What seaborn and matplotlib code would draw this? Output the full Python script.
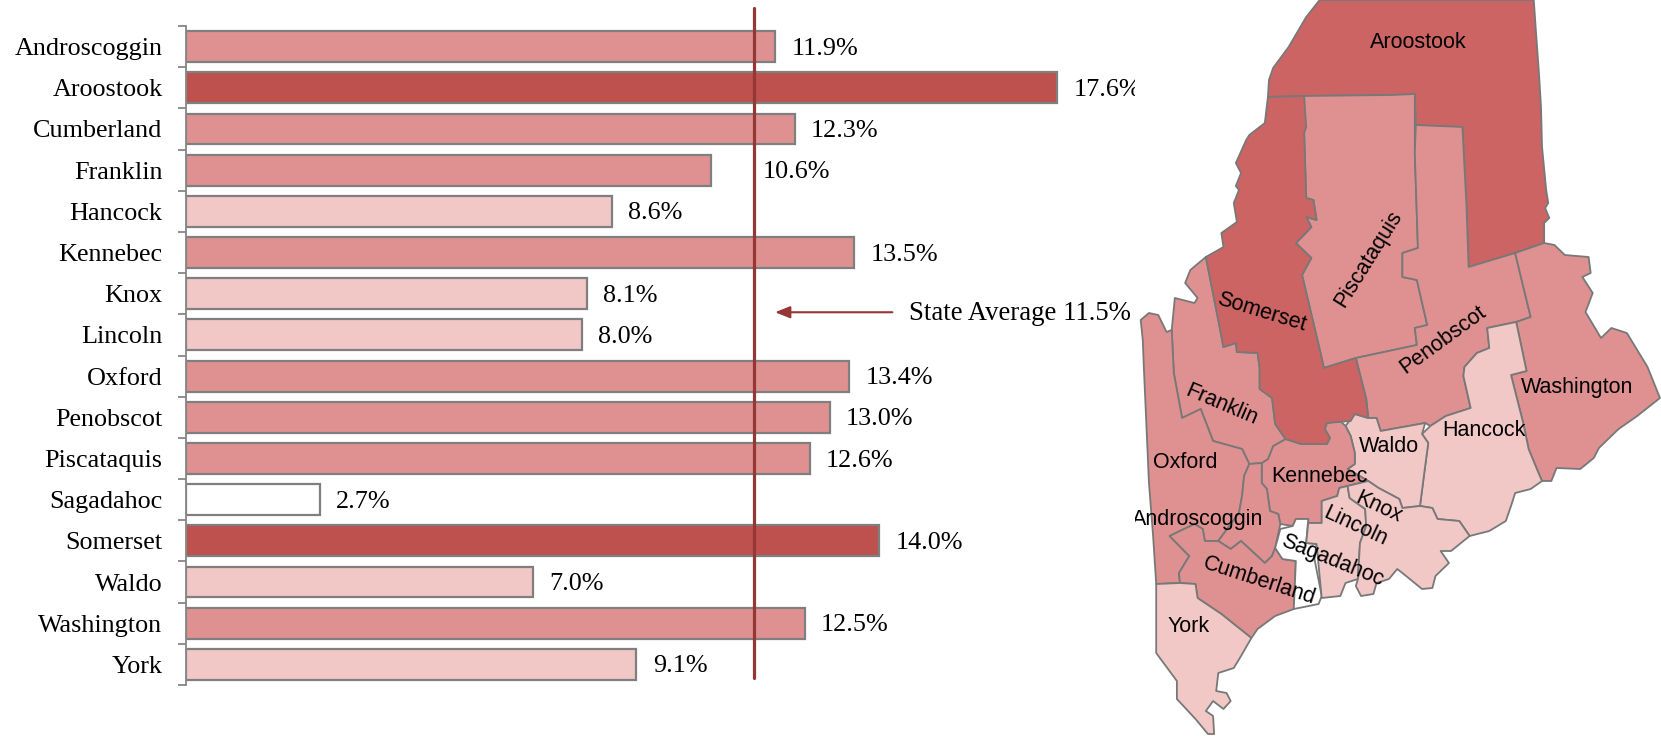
import matplotlib
matplotlib.use('Agg')
import matplotlib.pyplot as plt
import seaborn as sns
import pandas as pd

counties = ['Androscoggin', 'Aroostook', 'Cumberland', 'Franklin', 'Hancock', 'Kennebec', 'Knox', 'Lincoln',
            'Oxford', 'Penobscot', 'Piscataquis', 'Sagadahoc', 'Somerset', 'Waldo', 'Washington', 'York']
rates = [11.9, 17.6, 12.3, 10.6, 8.6, 13.5, 8.1, 8.0, 13.4, 13.0, 12.6, 2.7, 14.0, 7.0, 12.5, 9.1]
tiers = ['mid', 'high', 'mid', 'mid', 'low', 'mid', 'low', 'low', 'mid', 'mid', 'mid', 'none', 'high', 'low', 'mid', 'low']
state_avg = 11.5

bar_colors = {'high': '#BE504E', 'mid': '#DF9191', 'low': '#F2C8C7', 'none': '#FFFFFF'}
map_colors = {'high': '#CC6464', 'mid': '#DF9191', 'low': '#F2C8C6', 'none': '#FFFFFF'}

# county outlines
aroostook = [(1313, 0), (1520, 0), (1522, 30), (1525, 73), (1527, 107), (1528, 147), (1532, 190), (1534, 203),
             (1531, 208), (1535, 218), (1530, 223), (1530, 243), (1502, 253), (1457, 267), (1455, 207), (1451, 127),
             (1420, 126), (1406, 125), (1405, 94), (1383, 95), (1298, 96), (1263, 97), (1264, 80), (1268, 68),
             (1283, 47), (1300, 17)]
somerset = [(1263, 97), (1298, 96), (1300, 127), (1298, 133), (1300, 198), (1307, 200), (1310, 220), (1300, 217),
            (1305, 227), (1295, 238), (1290, 243), (1305, 258), (1296, 275), (1315, 358), (1317, 368), (1348, 358),
            (1358, 399), (1360, 418), (1347, 414), (1343, 421), (1320, 423), (1318, 429), (1323, 438), (1320, 444),
            (1295, 444), (1280, 439), (1270, 424), (1267, 398), (1255, 389), (1255, 368), (1253, 353), (1233, 352),
            (1232, 343), (1220, 347), (1215, 320), (1203, 257), (1220, 247), (1218, 233), (1233, 222), (1230, 203),
            (1235, 190), (1232, 186), (1237, 173), (1232, 163), (1242, 140), (1245, 135), (1260, 123)]
piscataquis = [(1298, 96), (1383, 95), (1405, 94), (1405, 153), (1408, 248), (1393, 253), (1393, 277), (1407, 280),
               (1417, 325), (1405, 328), (1407, 345), (1348, 358), (1317, 368), (1315, 358), (1296, 275), (1305, 258),
               (1290, 243), (1295, 238), (1305, 227), (1300, 217), (1310, 220), (1307, 200), (1300, 198), (1298, 133)]
penobscot = [(1406, 125), (1451, 127), (1455, 207), (1457, 267), (1502, 253), (1517, 317), (1503, 322), (1475, 328),
             (1477, 348), (1465, 353), (1453, 367), (1452, 376), (1459, 408), (1435, 416), (1420, 426), (1415, 423),
             (1372, 431), (1368, 418), (1360, 418), (1358, 399), (1348, 358), (1407, 345), (1405, 328), (1417, 325),
             (1407, 280), (1393, 277), (1393, 253), (1408, 248), (1405, 153)]
washington = [(1502, 253), (1530, 243), (1540, 245), (1550, 255), (1573, 257), (1575, 273), (1567, 277), (1577, 293),
              (1570, 312), (1585, 338), (1595, 328), (1610, 333), (1630, 367), (1642, 398), (1620, 416), (1602, 429),
              (1583, 448), (1578, 458), (1565, 469), (1542, 468), (1537, 481), (1528, 481), (1525, 474), (1515, 449),
              (1510, 424), (1498, 375), (1513, 371), (1503, 322), (1517, 317)]
hancock = [(1503, 322), (1475, 328), (1477, 348), (1465, 353), (1453, 367), (1452, 376), (1459, 408), (1435, 416),
           (1420, 426), (1412, 434), (1418, 443), (1415, 466), (1410, 506), (1422, 508), (1427, 519), (1448, 521),
           (1458, 536), (1477, 531), (1493, 521), (1498, 506), (1502, 493), (1517, 489), (1528, 481), (1525, 474),
           (1515, 449), (1510, 424), (1498, 375), (1513, 371)]
waldo = [(1338, 426), (1347, 414), (1360, 418), (1368, 418), (1372, 431), (1415, 423), (1412, 434), (1418, 443),
         (1415, 466), (1410, 506), (1393, 508), (1390, 499), (1370, 488), (1360, 481), (1340, 469), (1347, 464),
         (1347, 453), (1343, 436)]
kennebec = [(1268, 446), (1280, 439), (1295, 444), (1320, 444), (1323, 438), (1318, 429), (1320, 423), (1333, 421),
            (1338, 426), (1343, 436), (1347, 453), (1347, 464), (1340, 469), (1360, 481), (1340, 486), (1332, 488),
            (1330, 496), (1315, 501), (1315, 523), (1302, 523), (1302, 519), (1290, 519), (1287, 526), (1275, 524),
            (1273, 514), (1265, 511), (1262, 489), (1257, 483), (1257, 463), (1263, 459)]
franklin = [(1203, 257), (1215, 320), (1220, 347), (1232, 343), (1233, 352), (1253, 353), (1255, 368), (1255, 389),
            (1267, 398), (1270, 424), (1280, 439), (1268, 446), (1263, 459), (1257, 463), (1245, 464), (1238, 449),
            (1210, 441), (1198, 409), (1180, 418), (1172, 373), (1170, 330), (1173, 298), (1192, 303), (1195, 298),
            (1183, 283), (1188, 270)]
oxford = [(1140, 320), (1148, 313), (1157, 315), (1165, 332), (1170, 330), (1172, 373), (1180, 418), (1198, 409),
          (1210, 441), (1238, 449), (1245, 464), (1240, 476), (1238, 496), (1235, 513), (1215, 541), (1202, 541),
          (1200, 529), (1192, 524), (1168, 536), (1187, 556), (1177, 573), (1178, 583), (1155, 584), (1152, 536),
          (1148, 483), (1143, 366), (1142, 340)]
androscoggin = [(1245, 464), (1257, 463), (1257, 483), (1262, 489), (1265, 511), (1273, 514), (1275, 524), (1270, 548),
                (1267, 556), (1260, 563), (1237, 541), (1227, 549), (1215, 541), (1235, 513), (1238, 496), (1240, 476)]
cumberland = [(1168, 536), (1192, 524), (1200, 529), (1202, 541), (1215, 541), (1227, 549), (1237, 541), (1260, 563),
              (1267, 556), (1270, 548), (1277, 559), (1290, 561), (1288, 609), (1270, 616), (1253, 629), (1247, 638),
              (1218, 614), (1195, 598), (1193, 584), (1178, 583), (1177, 573), (1187, 556)]
york = [(1155, 584), (1178, 583), (1193, 584), (1195, 598), (1218, 614), (1247, 638), (1237, 656), (1230, 668),
        (1215, 673), (1213, 691), (1223, 693), (1227, 701), (1220, 709), (1210, 701), (1203, 711), (1210, 716),
        (1211, 734), (1205, 734), (1193, 719), (1175, 699), (1175, 681), (1155, 653), (1155, 629)]
sagadahoc = [(1290, 519), (1302, 519), (1300, 543), (1310, 544), (1308, 559), (1315, 596), (1312, 604), (1288, 609),
             (1290, 561), (1277, 559), (1270, 548), (1275, 529), (1287, 526)]
lincoln = [(1315, 501), (1330, 496), (1332, 488), (1340, 486), (1342, 498), (1357, 509), (1358, 526), (1352, 543),
           (1350, 579), (1338, 583), (1333, 596), (1315, 598), (1310, 544), (1300, 543), (1302, 523), (1315, 523)]
knox = [(1340, 486), (1360, 481), (1370, 488), (1390, 499), (1393, 508), (1410, 506), (1422, 508), (1427, 519),
        (1448, 521), (1458, 536), (1440, 551), (1430, 551), (1438, 563), (1425, 576), (1422, 588), (1412, 589),
        (1393, 573), (1388, 569), (1380, 579), (1368, 583), (1365, 594), (1353, 596), (1348, 586), (1350, 579),
        (1352, 543), (1358, 526), (1357, 509), (1342, 498)]

outlines = [aroostook, piscataquis, penobscot, washington, hancock, waldo, kennebec, franklin, oxford, androscoggin,
            cumberland, york, sagadahoc, lincoln, knox, somerset]
outline_names = ['Aroostook', 'Piscataquis', 'Penobscot', 'Washington', 'Hancock', 'Waldo', 'Kennebec', 'Franklin',
                 'Oxford', 'Androscoggin', 'Cumberland', 'York', 'Sagadahoc', 'Lincoln', 'Knox', 'Somerset']

# name, x, y, rotation
map_labels = [('Aroostook', 1408, 43, 0), ('Piscataquis', 1360, 259, 58), ('Somerset', 1257, 312, -17),
              ('Penobscot', 1432, 340, 36), ('Washington', 1562, 387, 0), ('Hancock', 1472, 431, 0),
              ('Waldo', 1380, 447, 0), ('Franklin', 1218, 405, -23), ('Oxford', 1183, 463, 0),
              ('Kennebec', 1313, 477, 0), ('Knox', 1370, 507, -25), ('Lincoln', 1348, 526, -25),
              ('Androscoggin', 1195, 520, 0), ('Sagadahoc', 1325, 561, -22), ('Cumberland', 1255, 581, -18),
              ('York', 1186, 627, 0)]

sns.set_theme(style='white')
plt.rcParams['font.family'] = ['Liberation Serif', 'DejaVu Serif']

W, H = 1661, 736
fig = plt.figure(figsize=(W / 100, H / 100), dpi=100)

# map on the right
mp = fig.add_axes([1135 / W, 0, (W - 1135) / W, 1])
mp.set_xlim(1134.5, 1643)
mp.set_ylim(H, 0)
mp.axis('off')
tier_of = dict(zip(counties, tiers))
for name, pts in zip(outline_names, outlines):
    xs = [p[0] for p in pts]
    ys = [p[1] for p in pts]
    mp.fill(xs, ys, facecolor=map_colors[tier_of[name]], edgecolor='#787878', linewidth=1.3, joinstyle='round')
for name, x, y, rot in map_labels:
    mp.text(x, y, name, ha='center', va='center', rotation=rot, rotation_mode='anchor', fontsize=15.5,
            family=['Liberation Sans', 'DejaVu Sans'], color='black', clip_on=True)

# bars on the left
ax = fig.add_axes([186 / W, 1 - 685 / H, (1135 - 186) / W, (685 - 26) / H])
df = pd.DataFrame({'county': counties, 'rate': rates, 'tier': tiers})
sns.barplot(data=df, y='county', x='rate', hue='tier', palette=bar_colors, dodge=False, legend=False,
            saturation=1, width=0.75, edgecolor='#7f7f7f', linewidth=1.6, ax=ax)

ax.set_xlim(0, 949 / 49.5)
ax.set_ylim(15.5, -0.5)
ax.set_xlabel('')
ax.set_ylabel('')
ax.xaxis.set_visible(False)
sns.despine(ax=ax, top=True, right=True, bottom=True)
ax.spines['left'].set_color('#868686')
ax.spines['left'].set_linewidth(1.3)
ax.patch.set_alpha(0)

ax.set_yticks(range(len(counties)))
ax.set_yticklabels(counties, fontsize=18.8, color='black')
ax.tick_params(axis='y', which='major', length=0, pad=17, left=False)
ax.set_yticks([i - 0.5 for i in range(len(counties) + 1)], minor=True)
ax.tick_params(axis='y', which='minor', length=6, width=1.3, color='#868686', left=True)

for i, v in enumerate(rates):
    # the Franklin label sits past the average line
    off = 1.05 if counties[i] == 'Franklin' else 0.33
    ax.text(v + off, i + 0.05, f'{v:.1f}%', va='center', ha='left', fontsize=18.8, color='black', clip_on=True)

# state average line, runs a bit above and below the bars
ax.plot([state_avg - 0.02, state_avg - 0.02], [-0.93, 15.32], color='#953735', linewidth=2.3, clip_on=False, zorder=5)
ax.annotate('', xy=(11.9, 6.45), xytext=(14.27, 6.45),
            arrowprops=dict(arrowstyle='-|>,head_length=0.75,head_width=0.3', color='#953735', lw=1.5,
                            shrinkA=0, shrinkB=0))
ax.text(14.6, 6.47, f'State Average {state_avg}%', va='center', ha='left', fontsize=19.3, color='black', clip_on=True)

fig.savefig('out.png', dpi=100, facecolor='white')
